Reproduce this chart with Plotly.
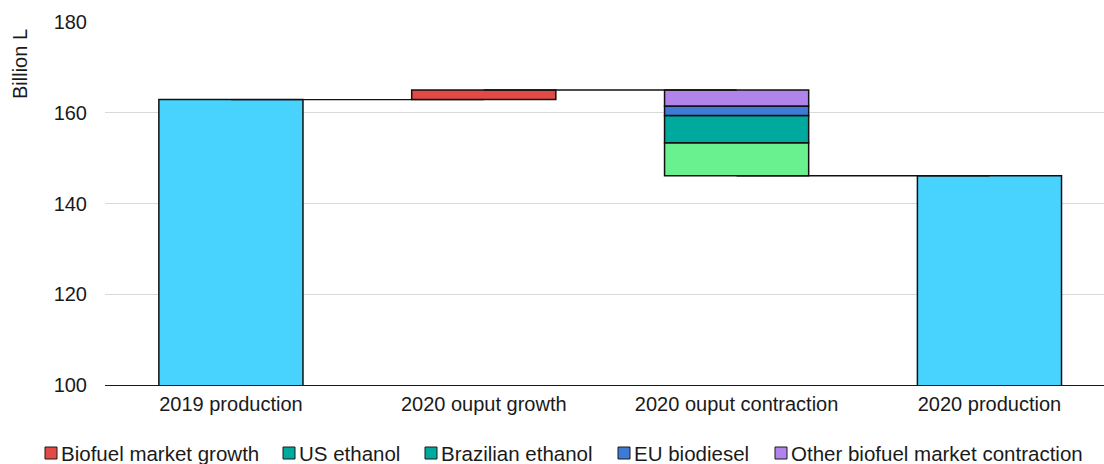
import plotly.graph_objects as go

categories = ["2019 production", "2020 ouput growth", "2020 ouput contraction", "2020 production"]

production_2019 = 162.9
growth = 2.1
peak = production_2019 + growth
contraction_names = ["US ethanol", "Brazilian ethanol", "EU biodiesel", "Other biofuel market contraction"]
contraction_values = [7.3, 6.0, 2.1, 3.5]
production_2020 = 146.1

legend_names = ["Biofuel market growth", "US ethanol", "Brazilian ethanol", "EU biodiesel",
                "Other biofuel market contraction"]
legend_colors = ["#e34a46", "#00a99d", "#00a99d", "#3e7bd4", "#b084eb"]
segment_colors = ["#69f18f", "#00a99d", "#3e7bd4", "#b084eb"]

W, H = 1104, 464
M = {"l": 105, "r": 0, "t": 22, "b": 79}
OUTLINE = {"color": "#111111", "width": 1.5}
WIDTH = 0.57
FONT = "Liberation Sans, Arial, sans-serif"


def px_x(px):
    return (px - M["l"]) / (W - M["l"] - M["r"])


def px_y(py):
    return (H - M["b"] - py) / (H - M["t"] - M["b"])


fig = go.Figure()

# connectors go from bar centre to bar centre
connectors = [
    (categories[0], categories[1], production_2019),
    (categories[1], categories[2], peak),
    (categories[2], categories[3], production_2020),
]
for x0, x1, level in connectors:
    fig.add_trace(go.Scatter(
        x=[x0, x1], y=[level, level], mode="lines",
        line={"color": "#111111", "width": 1.4},
        showlegend=False, hoverinfo="skip",
    ))

fig.add_trace(go.Bar(
    x=[categories[0], categories[3]], y=[production_2019, production_2020],
    marker={"color": "#48d3fe", "line": OUTLINE}, width=WIDTH, showlegend=False,
))
fig.add_trace(go.Bar(
    x=[categories[1]], y=[growth], base=[production_2019], name=legend_names[0],
    marker={"color": legend_colors[0], "line": OUTLINE}, width=WIDTH, showlegend=False,
))

base = production_2020
for name, value, color in zip(contraction_names, contraction_values, segment_colors):
    fig.add_trace(go.Bar(
        x=[categories[2]], y=[value], base=[base], name=name,
        marker={"color": color, "line": OUTLINE}, width=WIDTH, showlegend=False,
    ))
    base += value

# hand-made legend below the plot (plotly's own legend is too loose to fit in one row)
legend_left = [45, 283, 425, 618, 775]
for left, name, color in zip(legend_left, legend_names, legend_colors):
    fig.add_shape(
        type="rect", xref="paper", yref="paper",
        x0=px_x(left), x1=px_x(left + 12), y0=px_y(459), y1=px_y(447),
        fillcolor=color, line={"color": "#1a1a1a", "width": 1},
    )
    fig.add_annotation(
        text=name, xref="paper", yref="paper", x=px_x(left + 14), y=px_y(453),
        xanchor="left", yanchor="middle", showarrow=False,
        font={"size": 20.5, "color": "#1a1a1a"},
    )

fig.add_annotation(
    text="Billion L", textangle=-90, xref="paper", yref="paper",
    x=px_x(20), y=px_y(27), xanchor="center", yanchor="top", showarrow=False,
    font={"size": 20, "color": "#1a1a1a"},
)

fig.update_layout(
    width=W, height=H,
    barmode="overlay",
    paper_bgcolor="#ffffff", plot_bgcolor="#ffffff",
    font={"family": FONT, "size": 20, "color": "#1a1a1a"},
    margin={**M, "autoexpand": False},
    xaxis={
        "type": "category", "categoryorder": "array", "categoryarray": categories,
        "range": [-0.498, 3.453], "showline": True, "linecolor": "#1a1a1a", "linewidth": 1.3,
        "showgrid": False, "ticks": "", "ticklabelstandoff": 1,
    },
    yaxis={
        "range": [100, 180], "dtick": 20, "showgrid": True, "gridcolor": "#d9d9d9",
        "gridwidth": 1, "zeroline": False, "showline": False, "ticks": "",
        "ticklabelstandoff": 17,
    },
    showlegend=False,
)

fig.write_html("out.html", config={"displayModeBar": False},
               post_script="document.body.style.margin='0';")
